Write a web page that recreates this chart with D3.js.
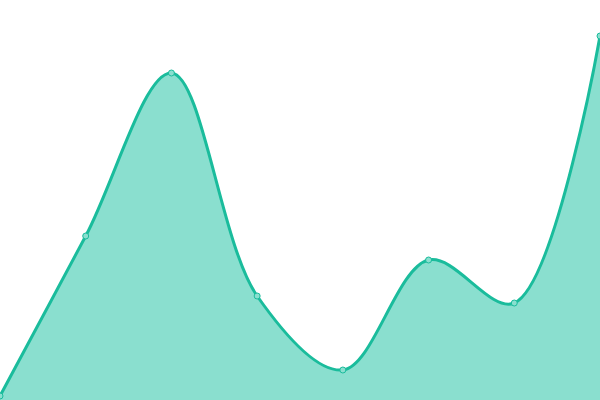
<!DOCTYPE html>
<html>
<head>
<meta charset="utf-8">
<script src="https://cdn.jsdelivr.net/npm/d3@7"></script>
<style>
  body { margin: 0; background: #fff; }
  #chart { width: 600px; height: 400px; }
</style>
</head>
<body>
<div id="chart"></div>
<script>

var labels = ["A", "B", "C", "D", "E", "F", "G", "H"];
var values = [1, 41, 81.75, 26, 7.5, 35, 24.25, 91];

var width = 600;
var height = 400;

var svg = d3.select("#chart")
    .append("svg")
    .attr("width", width)
    .attr("height", height);

var xScale = d3.scalePoint()
    .domain(labels)
    .range([0, width]);

var yScale = d3.scaleLinear()
    .domain([0, 100])
    .range([height, 0]);

var area = d3.area()
    .x(function(d, i){ return xScale(labels[i]); })
    .y0(height)
    .y1(function(d){ return yScale(d); })
    .curve(d3.curveCatmullRom);

var line = d3.line()
    .x(function(d, i){ return xScale(labels[i]); })
    .y(function(d){ return yScale(d); })
    .curve(d3.curveCatmullRom);

svg.append("path")
    .datum(values)
    .attr("fill", "#8adfcf")
    .attr("d", area);

svg.append("path")
    .datum(values)
    .attr("fill", "none")
    .attr("stroke", "#1abc9c")
    .attr("stroke-width", 3)
    .attr("d", line);

svg.selectAll("circle")
    .data(values)
    .enter()
    .append("circle")
    .attr("cx", function(d, i){ return xScale(labels[i]); })
    .attr("cy", function(d){ return yScale(d); })
    .attr("r", 3)
    .attr("fill", "#8adfcf")
    .attr("stroke", "#1abc9c")
    .attr("stroke-width", 1);

</script>
</body>
</html>
